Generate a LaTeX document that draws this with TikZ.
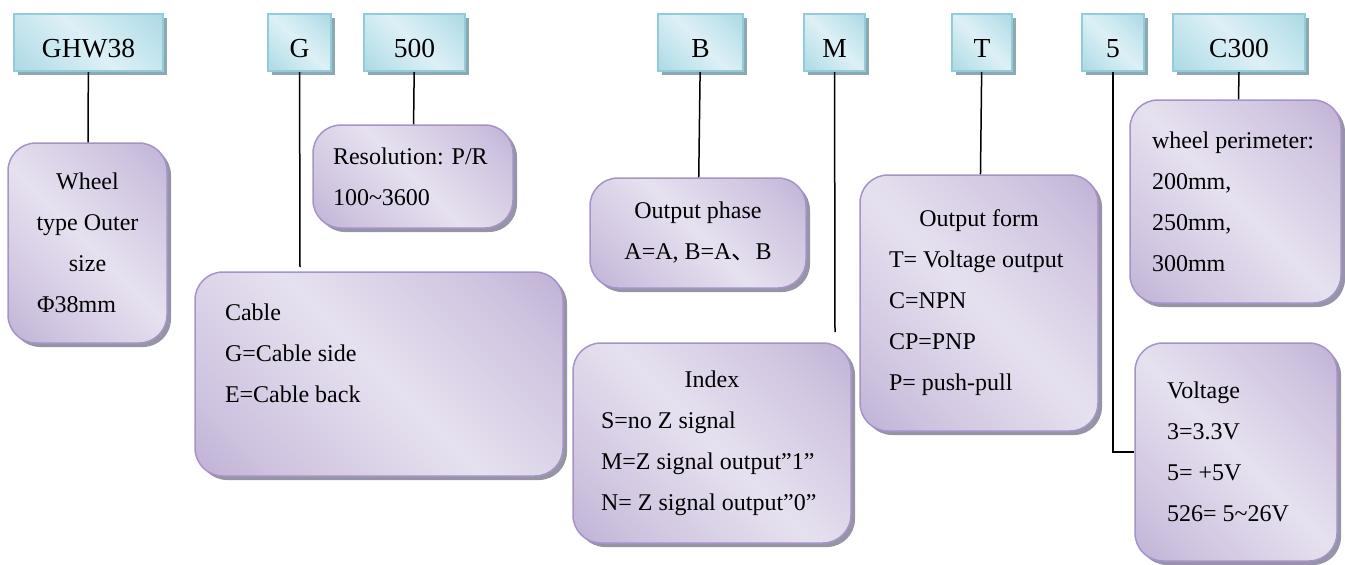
\documentclass[tikz,border=0pt]{standalone}
\usepackage{fontspec}
\setmainfont{Liberation Serif}
\newfontfamily\cjk{Noto Sans CJK SC}
\usetikzlibrary{shadows}
\definecolor{lilaclight}{HTML}{E6E1EF}
\definecolor{lilacmid}{HTML}{CFC4E0}
\definecolor{lilacdark}{HTML}{AB99C8}
\definecolor{lilacedge}{HTML}{A693C8}
\definecolor{cyanlight}{HTML}{DDF0F5}
\definecolor{cyanmid}{HTML}{C2E4ED}
\definecolor{cyandark}{HTML}{97CDDB}
\definecolor{cyanedge}{HTML}{92CCDA}
\definecolor{noteshade}{HTML}{9595A6}
\definecolor{codeshade}{HTML}{8EA8B0}
\pgfdeclarehorizontalshading{lilac}{100bp}{color(0bp)=(lilacdark); color(26bp)=(lilacmid); color(50bp)=(lilaclight); color(74bp)=(lilacmid); color(100bp)=(lilacdark)}
\pgfdeclarehorizontalshading{cyanish}{100bp}{color(0bp)=(cyandark); color(30bp)=(cyanmid); color(50bp)=(cyanlight); color(70bp)=(cyanmid); color(100bp)=(cyandark)}
\begin{document}
\begin{tikzpicture}[x=1pt,y=-1pt]
					\tikzstyle{code}=[draw=cyanedge,line width=2pt,shading=cyanish,shading angle=45,drop shadow={shadow xshift=4pt,shadow yshift=-4pt,fill=codeshade,opacity=1},minimum height=57pt,text height=29pt,text depth=0pt,font=\fontsize{27.5}{30}\selectfont]
					\tikzstyle{note}=[draw=lilacedge,line width=1.5pt,rounded corners=28pt,shading=lilac,shading angle=45,drop shadow={shadow xshift=4pt,shadow yshift=-4pt,fill=noteshade,opacity=1},font=\fontsize{24}{41}\selectfont,align=flush left]
					\tikzstyle{link}=[line width=1.5pt]
					\useasboundingbox (0,0) rectangle (1345,565);
					\node[code,minimum width=149pt] (ghw) at (88.5,42.5) {GHW38};
					\node[code,minimum width=63pt] (g) at (299.5,42.5) {G};
					\node[code,minimum width=101pt] (res) at (414.5,42.5) {500};
					\node[code,minimum width=85pt] (b) at (700.5,42.5) {B};
					\node[code,minimum width=61pt] (m) at (834.5,42.5) {M};
					\node[code,minimum width=60pt] (t) at (982,42.5) {T};
					\node[code,minimum width=62pt] (five) at (1113,42.5) {5};
					\node[code,minimum width=132pt] (c) at (1239,42.5) {C300};
					\node[note,minimum width=159pt,minimum height=200pt,align=center] (wheel) at (87.5,243) {Wheel\\type Outer\\size\\Φ38mm\hspace*{22pt}};
					\node[note,minimum width=200pt,minimum height=103pt,text width=160pt,inner xsep=20pt] (resolution) at (413,176.5) {Resolution: P/R\\100\textasciitilde3600};
					\node[note,minimum width=368pt,minimum height=204pt,text width=308pt,inner xsep=30pt] (cable) at (379,374) {Cable\\G=Cable side\\E=Cable back\\\mbox{}};
					\node[note,minimum width=216pt,minimum height=110pt,align=center] (phase) at (698,233) {Output phase\\A=A, B=A{\cjk 、}B};
					\node[note,minimum width=278pt,minimum height=200pt,text width=222pt,inner xsep=28pt] (index) at (712,443) {\makebox[\hsize]{Index}\\S=no Z signal\\M=Z signal output”1”\\N= Z signal output”0”};
					\node[note,minimum width=238pt,minimum height=256pt,text width=180pt,inner xsep=29pt] (form) at (979,303) {\makebox[\hsize]{Output form}\\T= Voltage output\\C=NPN\\CP=PNP\\P= push-pull};
					\node[note,minimum width=211pt,minimum height=203pt,text width=167pt,inner xsep=22pt] (perimeter) at (1235.5,201.5) {wheel perimeter:\\200mm,\\250mm,\\300mm};
					\node[note,minimum width=202pt,minimum height=218pt,text width=138pt,inner xsep=32pt] (voltage) at (1236,452) {Voltage\\3=3.3V\\5= +5V\\526= 5\textasciitilde26V};
					\coordinate (gend) at (300,267);
					\coordinate (mend) at (835,332);
					\draw[link] (ghw) -- (wheel);
					\draw[link] (g) -- (gend);
					\draw[link] (res) -- (resolution);
					\draw[link] (b) -- (phase);
					\draw[link] (m) -- (mend);
					\draw[link] (t) -- (form);
					\draw[link] (c.south) -- ([xshift=3pt]perimeter.north);
					\draw[link] (five.south) |- (voltage.west);
\end{tikzpicture}
\end{document}
